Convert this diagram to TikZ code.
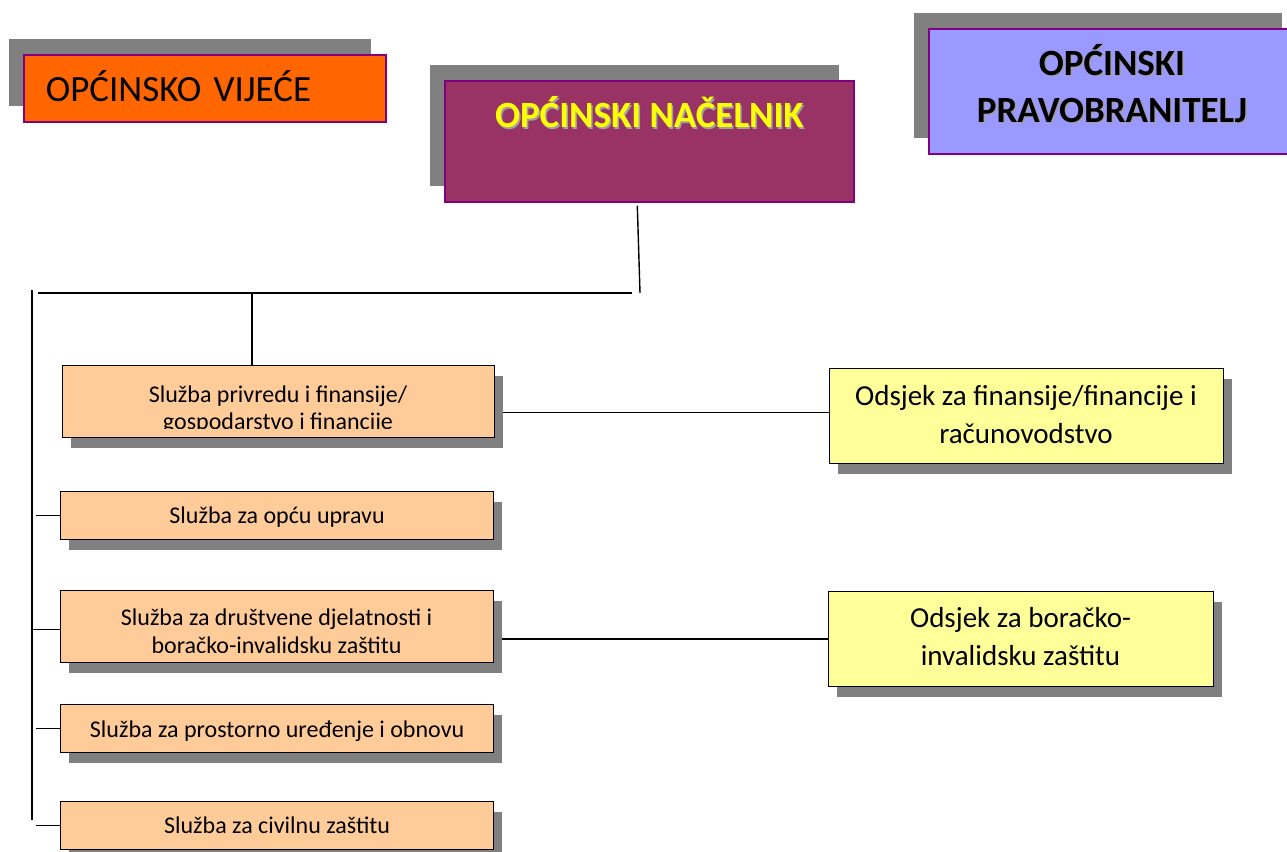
\documentclass[tikz,border=0pt]{standalone}
\usepackage{fontspec}
\setmainfont{Carlito}
\usetikzlibrary{shadows,backgrounds}
\definecolor{vijcol}{HTML}{FF6600}
\definecolor{naccol}{HTML}{993366}
\definecolor{pracol}{HTML}{9999FF}
\definecolor{slucol}{HTML}{FFCC99}
\definecolor{odscol}{HTML}{FFFF99}
\definecolor{purp}{HTML}{800080}
\definecolor{shgray}{HTML}{808080}
\definecolor{txtsh}{HTML}{A0A0A0}
\definecolor{yel}{HTML}{FFFF00}
\newcommand\shtext[1]{\leavevmode\rlap{\kern1.5pt\raisebox{-1.5pt}{\textcolor{txtsh}{#1}}}#1}
\begin{document}
\begin{tikzpicture}[x=1pt,y=-1pt,
  topbox/.style={draw=purp, line width=1.6pt, inner sep=0pt, anchor=north west,
    drop shadow={shadow xshift=-15pt, shadow yshift=16pt, fill=shgray, opacity=1}},
  headfont/.style={font=\bfseries\fontsize{37}{44}\selectfont},
  lowbox/.style={draw=black, line width=1.2pt, inner sep=0pt, anchor=north west,
    drop shadow={shadow xshift=8pt, shadow yshift=-10pt, fill=shgray, opacity=1}},
  slubox/.style={lowbox, fill=slucol, minimum width=433pt, font=\fontsize{24}{29}\selectfont},
  slutxt/.style={font=\fontsize{24}{29}\selectfont, inner sep=0pt, anchor=base},
  odsbox/.style={lowbox, fill=odscol},
  odstxt/.style={font=\fontsize{29}{35}\selectfont, inner sep=0pt, anchor=base},
  conn/.style={line width=1.4pt, black}]
\useasboundingbox (0,0) rectangle (1287,851);

% top boxes
\node[topbox, fill=vijcol, minimum width=362pt, minimum height=67pt,
      inner xsep=22pt, inner ysep=0pt, text width=318pt, align=left,
      text height=47pt, text depth=20pt, font=\fontsize{37}{44}\selectfont]
      (vij) at (23,54) {OPĆINSKO VIJEĆE};
\node[topbox, fill=naccol, minimum width=409pt, minimum height=121pt,
      text height=47pt, text depth=74pt, text=yel, headfont]
      (nac) at (444,80) {\shtext{OPĆINSKI NAČELNIK}};
\node[topbox, fill=pracol, minimum width=368pt, minimum height=125pt] (pra) at (928,28) {};
\node[headfont, inner sep=0pt, anchor=base] (pra1) at (1112,75) {\shtext{OPĆINSKI}};
\node[headfont, inner sep=0pt, anchor=base] (pra2) at (1112,122) {\shtext{PRAVOBRANITELJ}};

% service boxes
\node[slubox, minimum width=432pt, minimum height=72pt] (b1) at (62,365) {};
\begin{scope}
  \clip (b1.north west) rectangle ([yshift=10pt]b1.south east);
  \node[slutxt] (b1a) at (278,402) {Služba privredu i finansije/};
  \node[slutxt] (b1b) at (278,429) {gospodarstvo i financije};
\end{scope}
\node[slubox, minimum height=48pt, text height=32pt, text depth=16pt] (b2) at (60,491) {Služba za opću upravu};
\node[slubox, minimum height=72pt] (b3) at (60,590) {};
\begin{scope}
  \clip (b3.north west) rectangle ([yshift=11pt]b3.south east);
  \node[slutxt] (b3a) at (276.5,625) {Služba za društvene djelatnosti i};
  \node[slutxt] (b3b) at (276.5,653) {boračko-invalidsku zaštitu};
\end{scope}
\node[slubox, minimum height=48pt, text height=33pt, text depth=15pt] (b4) at (60,704) {Služba za prostorno uređenje i obnovu};
\node[slubox, minimum height=48pt, text height=32pt, text depth=16pt] (b5) at (60,801) {Služba za civilnu zaštitu};

% sections
\node[odsbox, minimum width=394pt, minimum height=95pt] (o1) at (829,368) {};
\node[odstxt] (o1a) at (1026,405) {Odsjek za finansije/financije i};
\node[odstxt] (o1b) at (1026,443) {računovodstvo};
\node[odsbox, minimum width=385pt, minimum height=95pt] (o2) at (828,591) {};
\node[odstxt] (o2a) at (1020.5,627) {Odsjek za boračko-};
\node[odstxt] (o2b) at (1020.5,665) {invalidsku zaštitu};

% connectors
\coordinate (hl) at (38,293);
\coordinate (hr) at (632,293);
\coordinate (vt) at (32,290);
\coordinate (vb) at (32,820);
\coordinate (j1) at (252,293);
\coordinate (d1) at (640,293);
\coordinate (sx) at (36,0);
\begin{pgfonlayer}{background}
\draw[conn] ([xshift=-12pt,yshift=-3pt]nac.south) -- (d1);
\draw[conn] (hl) -- (hr);
\draw[conn] (vt) -- (vb);
\draw[conn] (j1) -- (j1 |- b1.north);
\draw[conn] (b2.west) -- (b2.west -| sx);
\draw[conn] ([yshift=-3pt]b3.west) -- ([yshift=-3pt]b3.west -| vt);
\draw[conn] (b4.west) -- (b4.west -| sx);
\draw[conn] (b5.west) -- (b5.west -| sx);
\draw[conn] ([yshift=3.5pt]o1.west -| b1.east) -- ([yshift=3.5pt]o1.west);
\draw[conn] (o2.west -| b3.east) -- (o2.west);
\end{pgfonlayer}
\end{tikzpicture}
\end{document}
